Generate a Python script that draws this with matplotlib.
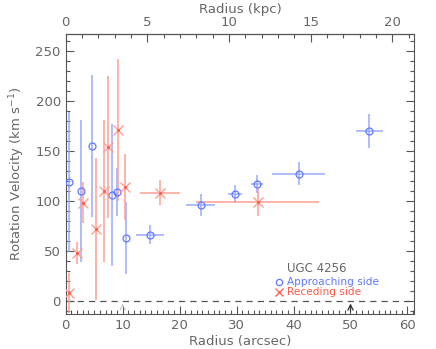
import numpy as np
import matplotlib.pyplot as plt

# approaching side (blue circles)
app_r = [0.6, 2.6, 4.7, 8.1, 9.0, 10.5, 14.8, 23.7, 29.7, 33.6, 40.9, 53.3]
app_v = [119, 110, 155, 106, 109, 63, 66, 96, 107, 117, 127, 170]
app_rerr = [0, 0, 0, 0, 0, 0, 2.4, 2.5, 1.2, 1.0, 4.6, 2.35]
app_verr = [70, 71, 71, 71, 24, 36, 9.5, 11, 9, 9, 11.5, 17]

# receding side (red crosses)
rec_r = [0.6, 1.9, 3.0, 5.3, 6.8, 7.5, 9.2, 10.4, 16.5, 33.7]
rec_v = [8, 48, 98, 72, 110, 154, 171, 114, 108, 99]
rec_rerr = [0, 0, 0, 0, 0, 0, 0, 0, 3.5, 10.8]
rec_verr = [20, 11, 20.5, 71, 71, 71, 71, 33, 12.5, 14]

arcsec_to_kpc = 0.3486

blue = "#5f78ff"
blue_l = "#9aaaff"
red = "#ff5a4a"
red_l = "#ff9e94"
gray = "#555555"
tgray = "#666666"

plt.rcParams["font.family"] = "DejaVu Sans"
plt.rcParams["font.size"] = 9.5

fig = plt.figure(figsize=(4.36, 3.49), dpi=100)
ax = fig.add_axes([0.1507, 0.1003, 0.7995, 0.8023])

ax.errorbar(app_r, app_v, xerr=app_rerr, yerr=app_verr, fmt="none",
            ecolor=blue_l, elinewidth=1.1, capsize=0, zorder=2)
ax.errorbar(rec_r, rec_v, xerr=rec_rerr, yerr=rec_verr, fmt="none",
            ecolor=red_l, elinewidth=1.1, capsize=0, zorder=2)
ax.plot(app_r, app_v, "o", mfc="none", mec=blue, ms=5, mew=0.9, zorder=3)
ax.plot(rec_r, rec_v, "x", color=red_l, ms=6.5, mew=1.0, zorder=3)
ax.plot(rec_r, rec_v, ".", color=red, ms=2.5, zorder=4)

ax.axhline(0, color=gray, ls=(0, (5, 4)), lw=0.9, zorder=1)
ax.annotate("", xy=(50, 0), xytext=(50, -13.3),
            arrowprops=dict(arrowstyle="->", color="#333333", lw=0.9))
ax.annotate("", xy=(10, -3), xytext=(10, -8),
            arrowprops=dict(arrowstyle="->", color="#bbbbbb", lw=0.7))

ax.text(44.0, 32.4, "UGC 4256", color=tgray, ha="center", va="center", fontsize=8.5)
ax.plot([37.4], [18.7], "o", mfc="none", mec=blue, ms=4.5, mew=0.9)
ax.text(38.8, 19.0, "Approaching side", color=blue, ha="left", va="center", fontsize=7.6)
ax.plot([37.4], [8.4], "x", color=red, ms=6, mew=0.9)
ax.text(38.8, 8.7, "Receding side", color=red, ha="left", va="center", fontsize=7.6)

ax.set_xlim(0, 61.2)
ax.set_ylim(-13.3, 266.7)
ax.set_xticks([0, 10, 20, 30, 40, 50, 60])
ax.set_xticks(np.arange(0, 62, 1), minor=True)
ax.set_yticks([0, 50, 100, 150, 200, 250])
ax.set_yticks(np.arange(-10, 261, 10), minor=True)
ax.tick_params(which="both", direction="in", colors=gray, labelcolor=tgray,
               right=True, top=False)
ax.tick_params(which="major", length=6, width=0.8)
ax.tick_params(which="minor", length=3, width=0.8)
for s in ax.spines.values():
    s.set_color(gray)
    s.set_linewidth(0.8)

ax.set_xlabel("Radius (arcsec)", color=tgray, labelpad=2)
ax.set_ylabel("Rotation Velocity (km s$^{-1}$)", color=tgray, labelpad=6)

sec = ax.secondary_xaxis("top", functions=(lambda x: x * arcsec_to_kpc,
                                           lambda k: k / arcsec_to_kpc))
sec.set_xticks([0, 5, 10, 15, 20])
sec.set_xticks(np.arange(0, 22, 1), minor=True)
sec.tick_params(which="both", direction="in", colors=gray, labelcolor=tgray)
sec.tick_params(which="major", length=6, width=0.8)
sec.tick_params(which="minor", length=3, width=0.8)
sec.set_xlabel("Radius (kpc)", color=tgray, labelpad=2)

fig.savefig("out.png", dpi=100)
